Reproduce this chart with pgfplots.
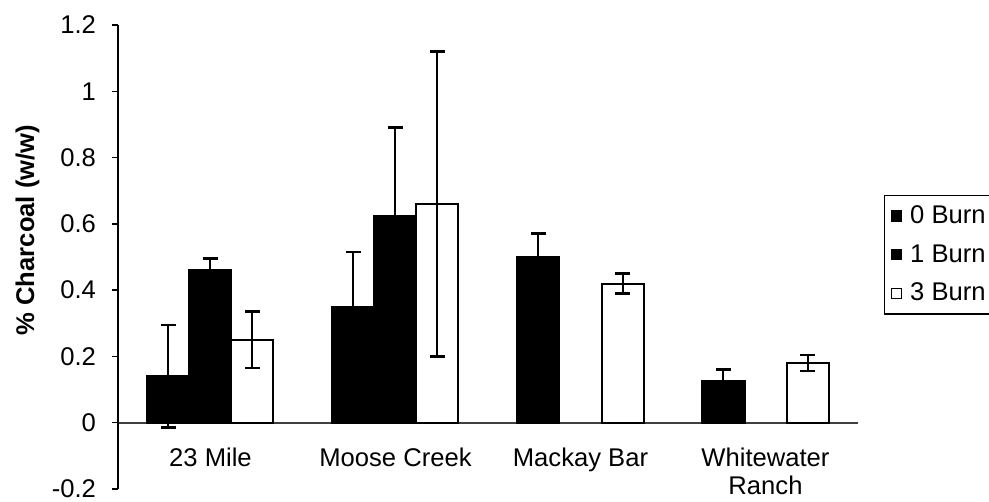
\documentclass[border=0pt]{standalone}
\usepackage{pgfplots}
\pgfplotsset{compat=1.18}
\usepackage{fontspec}
\setmainfont{Liberation Sans}
\usetikzlibrary{calc}
\newcommand{\fnt}{\fontsize{12.8}{15.5}\selectfont}
\begin{document}
\begin{tikzpicture}
\begin{axis}[name=ax, scale only axis, width=370pt, height=232pt,
  ymin=-0.2, ymax=1.2, xmin=-0.5, xmax=3.5,
  ytick={-0.2,0,0.2,0.4,0.6,0.8,1,1.2},
  yticklabels={-0.2,0,0.2,0.4,0.6,0.8,1,1.2},
  xtick={0,1,2,3},
  xticklabels={23 Mile, Moose Creek, Mackay Bar, {Whitewater\\[-1.5pt]Ranch}},
  axis y line=left, axis x line=middle,
  x axis line style={-, black!75, line width=0.8pt},
  y axis line style={-, black, line width=0.7pt},
  xtick style={draw=none},
  ytick style={black, line width=0.7pt},
  tick align=outside, major tick length=3pt,
  xticklabel style={font=\fnt, align=center, anchor=north, yshift=-6pt},
  yticklabel style={font=\fnt, xshift=-4.5pt},
  ylabel={\textbf{\% Charcoal (w/w)}},
  ylabel style={font=\fnt, at={($(rel axis cs:0,0.558)+(-45.25pt,0)$)}, anchor=center},
  ybar=0pt, bar width=21pt,
  legend style={at={(1.035,0.634)}, anchor=north west, draw=black, line width=0.7pt,
    font=\fnt, row sep=5pt, inner sep=3pt},
  legend cell align=left,
  legend image code/.code={\draw[#1, line width=0.6pt] (0pt,-2.5pt) rectangle (5pt,2.5pt); \path[draw=none, fill=none] (5pt,0) -- (7.5pt,0);},
  clip=false,
]
\addplot[fill=black, draw=black, line width=1pt,
  error bars/.cd, y dir=both, y explicit,
  error bar style={line width=1pt, black},
  error mark options={rotate=90, mark size=3.75pt, line width=1.3pt, black}]
  coordinates {(0,0.14) +- (0,0.155) (1,0.35) +- (0,0.165) (2,0.50) +- (0,0.07) (3,0.125) +- (0,0.035)};
\addplot[fill=black, draw=black, line width=1pt,
  error bars/.cd, y dir=both, y explicit,
  error bar style={line width=1pt, black},
  error mark options={rotate=90, mark size=3.75pt, line width=1.3pt, black}]
  coordinates {(0,0.46) +- (0,0.035) (1,0.625) +- (0,0.265)};
\addplot[fill=white, draw=black, line width=1pt,
  error bars/.cd, y dir=both, y explicit,
  error bar style={line width=1pt, black},
  error mark options={rotate=90, mark size=3.75pt, line width=1.3pt, black}]
  coordinates {(0,0.25) +- (0,0.085) (1,0.66) +- (0,0.46) (2,0.42) +- (0,0.03) (3,0.18) +- (0,0.024)};
\legend{0 Burn, 1 Burn, 3 Burn}
\end{axis}
\pgfresetboundingbox
\useasboundingbox ($(ax.south west)+(-59pt,-6.5pt)$) rectangle ($(ax.north east)+(65.5pt,12.5pt)$);
\end{tikzpicture}
\end{document}
